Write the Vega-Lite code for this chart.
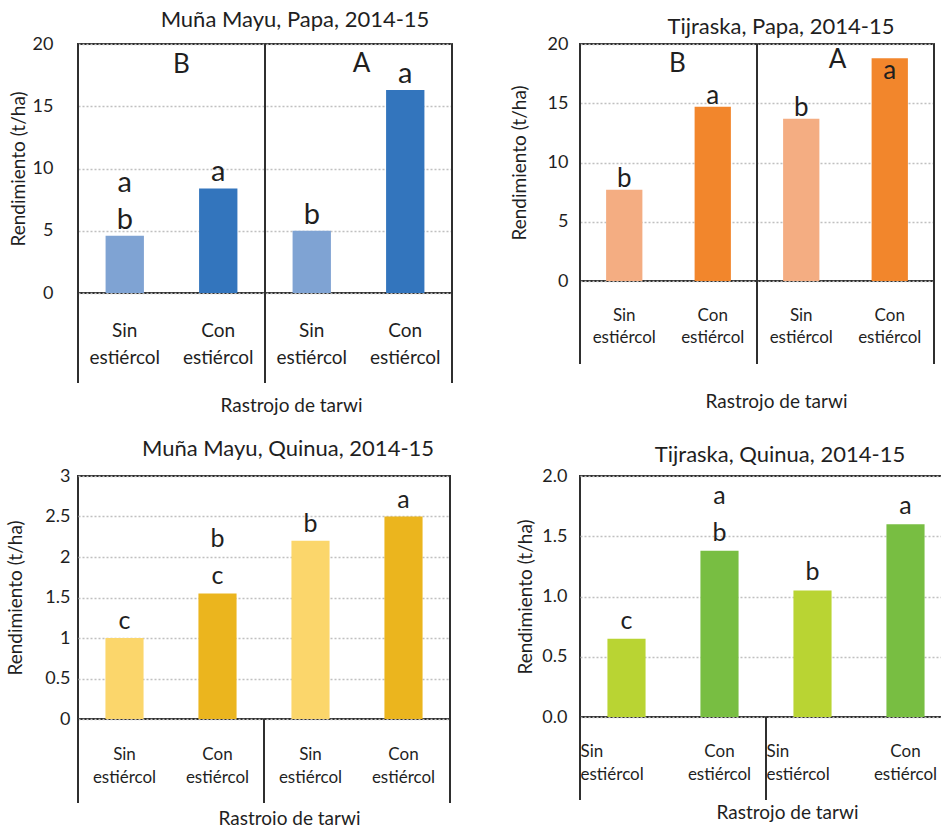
{
  "$schema": "https://vega.github.io/schema/vega-lite/v6.json",
  "background": "white",
  "padding": {"left": 5, "top": 8, "right": 0, "bottom": 0},
  "columns": 2,
  "spacing": {"column": 128, "row": 183},
  "bounds": "flush",
  "resolve": {"scale": {"color": "independent"}},
  "config": {
    "font": "Lato",
    "view": {"stroke": "#2f2f2f", "strokeWidth": 2},
    "axis": {"labelColor": "#1f1f1f", "titleColor": "#1f1f1f", "labelFont": "Lato", "titleFont": "Lato", "titleFontWeight": "normal", "ticks": false, "domain": false},
    "axisY": {"grid": true, "gridColor": "#c0c0c0", "gridDash": [2, 2], "gridWidth": 1.5, "labelFontSize": 18, "titleFontSize": 19},
    "axisX": {"grid": false, "labelFontSize": 17, "titleFontSize": 19, "labelAngle": 0, "labelBaseline": "top"},
    "title": {"fontSize": 22, "fontWeight": "normal", "color": "#1f1f1f", "font": "Lato", "frame": "group", "baseline": "alphabetic"},
    "text": {"color": "#1f1f1f", "font": "Lato"}
  },
  "datasets": {
    "papaMM": [
      {"cat": "Sin-1", "estiercol": "Sin", "rend": 4.6, "letra": "b", "letra2": "a", "grupo": "B"},
      {"cat": "Con-1", "estiercol": "Con", "rend": 8.4, "letra": "a", "grupo": "B"},
      {"cat": "Sin-2", "estiercol": "Sin", "rend": 5.0, "letra": "b", "grupo": "A"},
      {"cat": "Con-2", "estiercol": "Con", "rend": 16.3, "letra": "a", "grupo": "A"}
    ],
    "papaTJ": [
      {"cat": "Sin-1", "estiercol": "Sin", "rend": 7.7, "letra": "b", "grupo": "B"},
      {"cat": "Con-1", "estiercol": "Con", "rend": 14.7, "letra": "a", "grupo": "B"},
      {"cat": "Sin-2", "estiercol": "Sin", "rend": 13.7, "letra": "b", "grupo": "A"},
      {"cat": "Con-2", "estiercol": "Con", "rend": 18.8, "letra": "a", "grupo": "A"}
    ],
    "quinuaMM": [
      {"cat": "Sin-1", "estiercol": "Sin", "rend": 1.0, "letra": "c"},
      {"cat": "Con-1", "estiercol": "Con", "rend": 1.55, "letra": "c", "letra2": "b"},
      {"cat": "Sin-2", "estiercol": "Sin", "rend": 2.2, "letra": "b"},
      {"cat": "Con-2", "estiercol": "Con", "rend": 2.5, "letra": "a"}
    ],
    "quinuaTJ": [
      {"cat": "Sin-1", "estiercol": "Sin", "rend": 0.65, "letra": "c"},
      {"cat": "Con-1", "estiercol": "Con", "rend": 1.38, "letra": "b", "letra2": "a"},
      {"cat": "Sin-2", "estiercol": "Sin", "rend": 1.05, "letra": "b"},
      {"cat": "Con-2", "estiercol": "Con", "rend": 1.6, "letra": "a"}
    ]
  },
  "concat": [
    {
      "title": {"text": "Muña Mayu, Papa, 2014-15", "dx": 30, "offset": 3},
      "width": 374, "height": 249,
      "data": {"name": "papaMM"},
      "resolve": {"axis": {"x": "independent", "y": "independent"}},
      "layer": [
        {
          "mark": {"type": "bar", "width": {"band": 0.41}},
          "encoding": {
            "x": {"field": "cat", "type": "nominal", "scale": {"domain": ["Sin-1", "Con-1", "Sin-2", "Con-2"], "paddingInner": 0, "paddingOuter": 0},
              "axis": {"orient": "bottom", "title": "Rastrojo de tarwi", "titleFontSize": 19, "labelExpr": "[split(datum.value, '-')[0], 'estiércol']", "labelFontSize": 19, "labelPadding": 28, "labelLineHeight": 27, "titlePadding": 29, "titleX": 213}},
            "y": {"field": "rend", "type": "quantitative", "scale": {"domain": [0, 20], "nice": false},
              "axis": {"orient": "left", "title": "Rendimiento (t/ha)", "titleFontSize": 19, "values": [0, 5, 10, 15, 20], "format": "d", "labelPadding": 25, "titlePadding": 4}},
            "color": {"field": "estiercol", "type": "nominal", "scale": {"domain": ["Sin", "Con"], "range": ["#7fa3d3", "#3375bd"]}, "legend": null}
          }
        },
        {
          "transform": [{"filter": "datum.estiercol == 'Sin'"}],
          "mark": {"type": "rule", "color": "#2f2f2f", "strokeWidth": 2},
          "encoding": {
            "x": {"field": "cat", "type": "nominal", "bandPosition": 0, "scale": {"domain": ["Sin-1", "Con-1", "Sin-2", "Con-2"]}, "axis": null},
            "y": {"datum": 20, "type": "quantitative", "scale": {"domain": [0, 20], "nice": false}, "axis": null},
            "y2": {"datum": -7.23}
          }
        },
        {
          "transform": [{"filter": "datum.cat == 'Con-2'"}],
          "mark": {"type": "rule", "color": "#2f2f2f", "strokeWidth": 2},
          "encoding": {
            "x": {"field": "cat", "type": "nominal", "bandPosition": 1, "scale": {"domain": ["Sin-1", "Con-1", "Sin-2", "Con-2"]}, "axis": null},
            "y": {"datum": 20, "type": "quantitative", "scale": {"domain": [0, 20], "nice": false}, "axis": null},
            "y2": {"datum": -7.23}
          }
        },
        {
          "mark": {"type": "text", "baseline": "bottom", "dy": -1, "fontSize": 29},
          "encoding": {
            "x": {"field": "cat", "type": "nominal", "scale": {"domain": ["Sin-1", "Con-1", "Sin-2", "Con-2"]}, "axis": null},
            "y": {"field": "rend", "type": "quantitative", "scale": {"domain": [0, 20], "nice": false}, "axis": null},
            "text": {"field": "letra"}
          }
        },
        {
          "transform": [{"filter": "datum.letra2"}],
          "mark": {"type": "text", "baseline": "bottom", "dy": -38, "fontSize": 29},
          "encoding": {
            "x": {"field": "cat", "type": "nominal", "scale": {"domain": ["Sin-1", "Con-1", "Sin-2", "Con-2"]}, "axis": null},
            "y": {"field": "rend", "type": "quantitative", "scale": {"domain": [0, 20], "nice": false}, "axis": null},
            "text": {"field": "letra2"}
          }
        },
        {
          "transform": [{"filter": "datum.cat == 'Con-1'"}],
          "mark": {"type": "text", "baseline": "alphabetic", "dy": 29, "dx": 10, "fontSize": 26},
          "encoding": {
            "x": {"field": "cat", "type": "nominal", "bandPosition": 0, "scale": {"domain": ["Sin-1", "Con-1", "Sin-2", "Con-2"]}, "axis": null},
            "y": {"datum": 20, "type": "quantitative", "scale": {"domain": [0, 20], "nice": false}, "axis": null},
            "text": {"field": "grupo"}
          }
        },
        {
          "transform": [{"filter": "datum.cat == 'Con-2'"}],
          "mark": {"type": "text", "baseline": "alphabetic", "dy": 28, "dx": 3, "fontSize": 26},
          "encoding": {
            "x": {"field": "cat", "type": "nominal", "bandPosition": 0, "scale": {"domain": ["Sin-1", "Con-1", "Sin-2", "Con-2"]}, "axis": null},
            "y": {"datum": 20, "type": "quantitative", "scale": {"domain": [0, 20], "nice": false}, "axis": null},
            "text": {"field": "grupo"}
          }
        }
      ]
    },
    {
      "title": {"text": "Tijraska, Papa, 2014-15", "dx": 24, "offset": -4},
      "width": 354, "height": 237,
      "data": {"name": "papaTJ"},
      "resolve": {"axis": {"x": "independent", "y": "independent"}},
      "layer": [
        {
          "mark": {"type": "bar", "width": {"band": 0.41}},
          "encoding": {
            "x": {"field": "cat", "type": "nominal", "scale": {"domain": ["Sin-1", "Con-1", "Sin-2", "Con-2"], "paddingInner": 0, "paddingOuter": 0},
              "axis": {"orient": "bottom", "title": "Rastrojo de tarwi", "titleFontSize": 19, "labelExpr": "[split(datum.value, '-')[0], 'estiércol']", "labelPadding": 26, "labelLineHeight": 22, "titlePadding": 47, "titleX": 196}},
            "y": {"field": "rend", "type": "quantitative", "scale": {"domain": [0, 20], "nice": false},
              "axis": {"orient": "left", "title": "Rendimiento (t/ha)", "titleFontSize": 19, "values": [0, 5, 10, 15, 20], "format": "d", "labelPadding": 12, "titlePadding": 18}},
            "color": {"field": "estiercol", "type": "nominal", "scale": {"domain": ["Sin", "Con"], "range": ["#f4ad82", "#f2862c"]}, "legend": null}
          }
        },
        {
          "transform": [{"filter": "datum.estiercol == 'Sin'"}],
          "mark": {"type": "rule", "color": "#2f2f2f", "strokeWidth": 2},
          "encoding": {
            "x": {"field": "cat", "type": "nominal", "bandPosition": 0, "scale": {"domain": ["Sin-1", "Con-1", "Sin-2", "Con-2"]}, "axis": null},
            "y": {"datum": 20, "type": "quantitative", "scale": {"domain": [0, 20], "nice": false}, "axis": null},
            "y2": {"datum": -7.0}
          }
        },
        {
          "transform": [{"filter": "datum.cat == 'Con-2'"}],
          "mark": {"type": "rule", "color": "#2f2f2f", "strokeWidth": 2},
          "encoding": {
            "x": {"field": "cat", "type": "nominal", "bandPosition": 1, "scale": {"domain": ["Sin-1", "Con-1", "Sin-2", "Con-2"]}, "axis": null},
            "y": {"datum": 20, "type": "quantitative", "scale": {"domain": [0, 20], "nice": false}, "axis": null},
            "y2": {"datum": -7.0}
          }
        },
        {
          "transform": [{"filter": "datum.cat != 'Con-2'"}],
          "mark": {"type": "text", "baseline": "bottom", "dy": 2, "fontSize": 26},
          "encoding": {
            "x": {"field": "cat", "type": "nominal", "scale": {"domain": ["Sin-1", "Con-1", "Sin-2", "Con-2"]}, "axis": null},
            "y": {"field": "rend", "type": "quantitative", "scale": {"domain": [0, 20], "nice": false}, "axis": null},
            "text": {"field": "letra"}
          }
        },
        {
          "transform": [{"filter": "datum.cat == 'Con-2'"}],
          "mark": {"type": "text", "baseline": "bottom", "dy": 26, "fontSize": 26},
          "encoding": {
            "x": {"field": "cat", "type": "nominal", "scale": {"domain": ["Sin-1", "Con-1", "Sin-2", "Con-2"]}, "axis": null},
            "y": {"field": "rend", "type": "quantitative", "scale": {"domain": [0, 20], "nice": false}, "axis": null},
            "text": {"field": "letra"}
          }
        },
        {
          "transform": [{"filter": "datum.cat == 'Con-1'"}],
          "mark": {"type": "text", "baseline": "alphabetic", "dy": 28, "dx": 9, "fontSize": 26},
          "encoding": {
            "x": {"field": "cat", "type": "nominal", "bandPosition": 0, "scale": {"domain": ["Sin-1", "Con-1", "Sin-2", "Con-2"]}, "axis": null},
            "y": {"datum": 20, "type": "quantitative", "scale": {"domain": [0, 20], "nice": false}, "axis": null},
            "text": {"field": "grupo"}
          }
        },
        {
          "transform": [{"filter": "datum.cat == 'Con-2'"}],
          "mark": {"type": "text", "baseline": "alphabetic", "dy": 24, "dx": -8, "fontSize": 26},
          "encoding": {
            "x": {"field": "cat", "type": "nominal", "bandPosition": 0, "scale": {"domain": ["Sin-1", "Con-1", "Sin-2", "Con-2"]}, "axis": null},
            "y": {"datum": 20, "type": "quantitative", "scale": {"domain": [0, 20], "nice": false}, "axis": null},
            "text": {"field": "grupo"}
          }
        }
      ]
    },
    {
      "title": {"text": "Muña Mayu, Quinua, 2014-15", "dx": 24, "offset": 6},
      "width": 372, "height": 243,
      "data": {"name": "quinuaMM"},
      "resolve": {"axis": {"x": "independent", "y": "independent"}},
      "layer": [
        {
          "mark": {"type": "bar", "width": {"band": 0.41}},
          "encoding": {
            "x": {"field": "cat", "type": "nominal", "scale": {"domain": ["Sin-1", "Con-1", "Sin-2", "Con-2"], "paddingInner": 0, "paddingOuter": 0},
              "axis": {"orient": "bottom", "title": "Rastrojo de tarwi", "titleFontSize": 19, "labelExpr": "[split(datum.value, '-')[0], 'estiércol']", "labelPadding": 27, "labelLineHeight": 23, "titlePadding": 24, "titleX": 211}},
            "y": {"field": "rend", "type": "quantitative", "scale": {"domain": [0, 3], "nice": false},
              "axis": {"orient": "left", "title": "Rendimiento (t/ha)", "titleFontSize": 19, "values": [0, 0.5, 1, 1.5, 2, 2.5, 3], "format": "~g", "labelPadding": 8, "titlePadding": 19}},
            "color": {"field": "estiercol", "type": "nominal", "scale": {"domain": ["Sin", "Con"], "range": ["#fbd66b", "#ebb51e"]}, "legend": null}
          }
        },
        {
          "transform": [{"filter": "datum.estiercol == 'Sin'"}],
          "mark": {"type": "rule", "color": "#2f2f2f", "strokeWidth": 2},
          "encoding": {
            "x": {"field": "cat", "type": "nominal", "bandPosition": 0, "scale": {"domain": ["Sin-1", "Con-1", "Sin-2", "Con-2"]}, "axis": null},
            "y": {"datum": 0, "type": "quantitative", "scale": {"domain": [0, 3], "nice": false}, "axis": null},
            "y2": {"datum": -1.037}
          }
        },
        {
          "transform": [{"filter": "datum.cat == 'Con-2'"}],
          "mark": {"type": "rule", "color": "#2f2f2f", "strokeWidth": 2},
          "encoding": {
            "x": {"field": "cat", "type": "nominal", "bandPosition": 1, "scale": {"domain": ["Sin-1", "Con-1", "Sin-2", "Con-2"]}, "axis": null},
            "y": {"datum": 0, "type": "quantitative", "scale": {"domain": [0, 3], "nice": false}, "axis": null},
            "y2": {"datum": -1.037}
          }
        },
        {
          "mark": {"type": "text", "baseline": "bottom", "dy": -4, "fontSize": 25},
          "encoding": {
            "x": {"field": "cat", "type": "nominal", "scale": {"domain": ["Sin-1", "Con-1", "Sin-2", "Con-2"]}, "axis": null},
            "y": {"field": "rend", "type": "quantitative", "scale": {"domain": [0, 3], "nice": false}, "axis": null},
            "text": {"field": "letra"}
          }
        },
        {
          "transform": [{"filter": "datum.letra2"}],
          "mark": {"type": "text", "baseline": "bottom", "dy": -41, "fontSize": 25},
          "encoding": {
            "x": {"field": "cat", "type": "nominal", "scale": {"domain": ["Sin-1", "Con-1", "Sin-2", "Con-2"]}, "axis": null},
            "y": {"field": "rend", "type": "quantitative", "scale": {"domain": [0, 3], "nice": false}, "axis": null},
            "text": {"field": "letra2"}
          }
        }
      ]
    },
    {
      "title": {"text": "Tijraska, Quinua, 2014-15", "dx": 14, "offset": 0},
      "width": 372, "height": 241,
      "data": {"name": "quinuaTJ"},
      "resolve": {"axis": {"x": "independent", "y": "independent"}},
      "layer": [
        {
          "mark": {"type": "bar", "width": {"band": 0.41}},
          "encoding": {
            "x": {"field": "cat", "type": "nominal", "scale": {"domain": ["Sin-1", "Con-1", "Sin-2", "Con-2"], "paddingInner": 0, "paddingOuter": 0},
              "axis": {"orient": "bottom", "title": "Rastrojo de tarwi", "titleFontSize": 19, "labelExpr": "[split(datum.value, '-')[0], 'estiércol']", "labelPadding": 26, "labelLineHeight": 23, "titlePadding": 21, "titleX": 207,
                "labelAlign": {"condition": {"test": "indexof(datum.value, 'Sin') == 0", "value": "left"}, "value": "center"},
                "labelOffset": {"condition": {"test": "indexof(datum.value, 'Sin') == 0", "value": -46}, "value": 0}}},
            "y": {"field": "rend", "type": "quantitative", "scale": {"domain": [0, 2], "nice": false},
              "axis": {"orient": "left", "title": "Rendimiento (t/ha)", "titleFontSize": 19, "values": [0, 0.5, 1, 1.5, 2], "format": ".1f", "labelPadding": 13, "titlePadding": 6}},
            "color": {"field": "estiercol", "type": "nominal", "scale": {"domain": ["Sin", "Con"], "range": ["#b9d433", "#78be42"]}, "legend": null}
          }
        },
        {
          "transform": [{"filter": "datum.estiercol == 'Sin'"}],
          "mark": {"type": "rule", "color": "#2f2f2f", "strokeWidth": 2},
          "encoding": {
            "x": {"field": "cat", "type": "nominal", "bandPosition": 0, "scale": {"domain": ["Sin-1", "Con-1", "Sin-2", "Con-2"]}, "axis": null},
            "y": {"datum": 0, "type": "quantitative", "scale": {"domain": [0, 2], "nice": false}, "axis": null},
            "y2": {"datum": -0.689}
          }
        },
        {
          "mark": {"type": "text", "baseline": "bottom", "dy": -5, "fontSize": 25},
          "encoding": {
            "x": {"field": "cat", "type": "nominal", "scale": {"domain": ["Sin-1", "Con-1", "Sin-2", "Con-2"]}, "axis": null},
            "y": {"field": "rend", "type": "quantitative", "scale": {"domain": [0, 2], "nice": false}, "axis": null},
            "text": {"field": "letra"}
          }
        },
        {
          "transform": [{"filter": "datum.letra2"}],
          "mark": {"type": "text", "baseline": "bottom", "dy": -42, "fontSize": 25},
          "encoding": {
            "x": {"field": "cat", "type": "nominal", "scale": {"domain": ["Sin-1", "Con-1", "Sin-2", "Con-2"]}, "axis": null},
            "y": {"field": "rend", "type": "quantitative", "scale": {"domain": [0, 2], "nice": false}, "axis": null},
            "text": {"field": "letra2"}
          }
        }
      ]
    }
  ]
}
